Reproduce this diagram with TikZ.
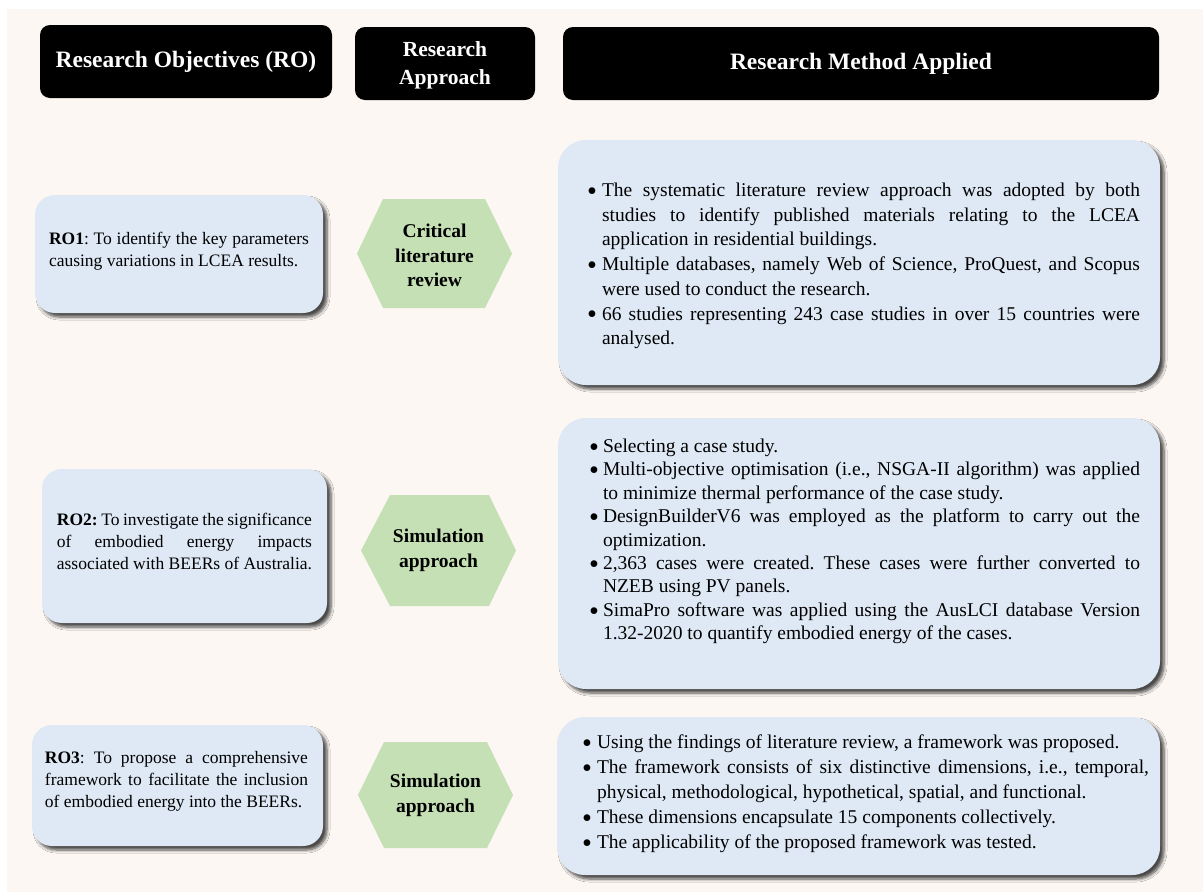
\documentclass[tikz,border=0pt]{standalone}
\usepackage{fontspec}
\setmainfont{Liberation Serif}
\usetikzlibrary{shadows.blur}

\definecolor{bgcream}{HTML}{FCF7F3}
\definecolor{boxblue}{HTML}{DEE9F5}
\definecolor{hexgreen}{HTML}{C5E0B4}

\frenchspacing
% bullet indent and justified line width
\newlength{\bind}
\newlength{\tw}
\newcommand{\bdot}{\smash{\raisebox{-0.2em}{\scalebox{1.45}{\textbullet}}}}
\newcommand{\bj}[1]{\makebox[\bind][l]{\bdot}\makebox[\tw][s]{#1}}
\newcommand{\bl}[1]{\makebox[\bind][l]{\bdot}#1}
\newcommand{\cj}[1]{\hspace*{\bind}\makebox[\tw][s]{#1}}
\newcommand{\cl}[1]{\hspace*{\bind}#1}
\newcommand{\jl}[1]{\makebox[\tw][s]{#1}}

\tikzset{
  head/.style={fill=black, rounded corners=10pt, text=white, align=center,
    inner sep=0pt, outer sep=0pt, font=\bfseries\fontsize{23.5}{28}\selectfont},
  softshadow/.style={blur shadow={shadow xshift=4pt, shadow yshift=-4pt,
    shadow blur radius=3pt, shadow blur steps=6, shadow opacity=70}},
  robox/.style={fill=boxblue, rounded corners=20pt, inner sep=0pt, outer sep=0pt, softshadow},
  rmbox/.style={fill=boxblue, rounded corners=28pt, inner sep=0pt, outer sep=0pt, softshadow},
  hexa/.style={fill=hexgreen},
  hextext/.style={align=center, inner sep=0pt, font=\bfseries\fontsize{19.5}{24.5}\selectfont},
  rotext/.style={align=left, inner sep=0pt, font=\fontsize{17.5}{21.7}\selectfont},
  rmtext/.style={align=left, inner sep=0pt},
}

\begin{document}
\begin{tikzpicture}[x=1pt, y=-1pt]
\useasboundingbox (0,0) rectangle (1203,892);
\fill[white] (0,0) rectangle (1203,892);
\fill[bgcream] (7,9) rectangle (1203,892);

% column headings
\node[head, minimum width=292pt, minimum height=73pt] (hro) at (186,61.5) {Research Objectives (RO)};
\node[head, minimum width=180pt, minimum height=73pt] (hra) at (445,63.5) {};
\node[align=center, inner sep=0pt, text=white,
      font=\bfseries\fontsize{21.5}{28}\selectfont] (hrat) at (445,65) {Research\\Approach};
\node[head, minimum width=596pt, minimum height=73pt] (hrm) at (861,63.5) {Research Method Applied};

% research objective boxes
\node[robox, minimum width=288pt, minimum height=118pt] (ro1) at (179,254) {};
\node[robox, minimum width=285pt, minimum height=154pt] (ro2) at (184.5,546) {};
\node[robox, minimum width=291pt, minimum height=121pt] (ro3) at (177.5,785.5) {};

\setlength{\tw}{260pt}
\node[rotext] (ro1t) at (179,251) {\jl{\textbf{RO1}: To identify the key parameters}\\causing variations in LCEA results.};
\setlength{\tw}{255pt}
\node[rotext] (ro2t) at (184.5,541.5) {\jl{\textbf{RO2:} To investigate the significance}\\\jl{of embodied energy impacts}\\associated with BEERs of Australia.};
\setlength{\tw}{263pt}
\node[rotext] (ro3t) at (176.5,781.5) {\jl{\textbf{RO3}: To propose a comprehensive}\\\jl{framework to facilitate the inclusion}\\of embodied energy into the BEERs.};

% approach hexagons
\fill[hexa] (357,253.5) -- (383,199) -- (485,199) -- (512,253.5) -- (485,308) -- (383,308) -- cycle;
\fill[hexa] (361,550.5) -- (390,495) -- (489,495) -- (516,550.5) -- (489,606) -- (390,606) -- cycle;
\fill[hexa] (358,795) -- (384,742) -- (487,742) -- (513,795) -- (487,848) -- (384,848) -- cycle;
\node[hextext] (ap1) at (434.5,255.5) {Critical\\literature\\review};
\node[hextext] (ap2) at (438.5,550.5) {Simulation\\approach};
\node[hextext] (ap3) at (435.5,795.5) {Simulation\\approach};

% method boxes
\node[rmbox, minimum width=602pt, minimum height=245pt] (rm1) at (859,262.5) {};
\node[rmbox, minimum width=602pt, minimum height=271pt] (rm2) at (859,553.5) {};
\node[rmbox, minimum width=603pt, minimum height=158pt] (rm3) at (858.5,796) {};

\setlength{\bind}{15pt}\setlength{\tw}{538pt}
\node[rmtext, font=\fontsize{19.5}{24.7}\selectfont] (rm1t) at (863.5,266) {%
\bj{The systematic literature review approach was adopted by both}\\
\cj{studies to identify published materials relating to the LCEA}\\
\cl{application in residential buildings.}\\
\bj{Multiple databases, namely Web of Science, ProQuest, and Scopus}\\
\cl{were used to conduct the research.}\\
\bj{66 studies representing 243 case studies in over 15 countries were}\\
\cl{analysed.}};

\setlength{\bind}{14pt}\setlength{\tw}{537pt}
\node[rmtext, font=\fontsize{19.5}{23.4}\selectfont] (rm2t) at (864.5,541.5) {%
\bl{Selecting a case study.}\\
\bj{Multi-objective optimisation (i.e., NSGA-II algorithm) was applied}\\
\cl{to minimize thermal performance of the case study.}\\
\bj{DesignBuilderV6 was employed as the platform to carry out the}\\
\cl{optimization.}\\
\bj{2,363 cases were created. These cases were further converted to}\\
\cl{NZEB using PV panels.}\\
\bj{SimaPro software was applied using the AusLCI database Version}\\
\cl{1.32-2020 to quantify embodied energy of the cases.}};

\setlength{\bind}{15pt}\setlength{\tw}{552pt}
\node[rmtext, font=\fontsize{19.5}{25}\selectfont] (rm3t) at (865.5,794) {%
\bl{Using the findings of literature review, a framework was proposed.}\\
\bj{The framework consists of six distinctive dimensions, i.e., temporal,}\\
\cl{physical, methodological, hypothetical, spatial, and functional.}\\
\bl{These dimensions encapsulate 15 components collectively.}\\
\bl{The applicability of the proposed framework was tested.}};
\end{tikzpicture}
\end{document}
